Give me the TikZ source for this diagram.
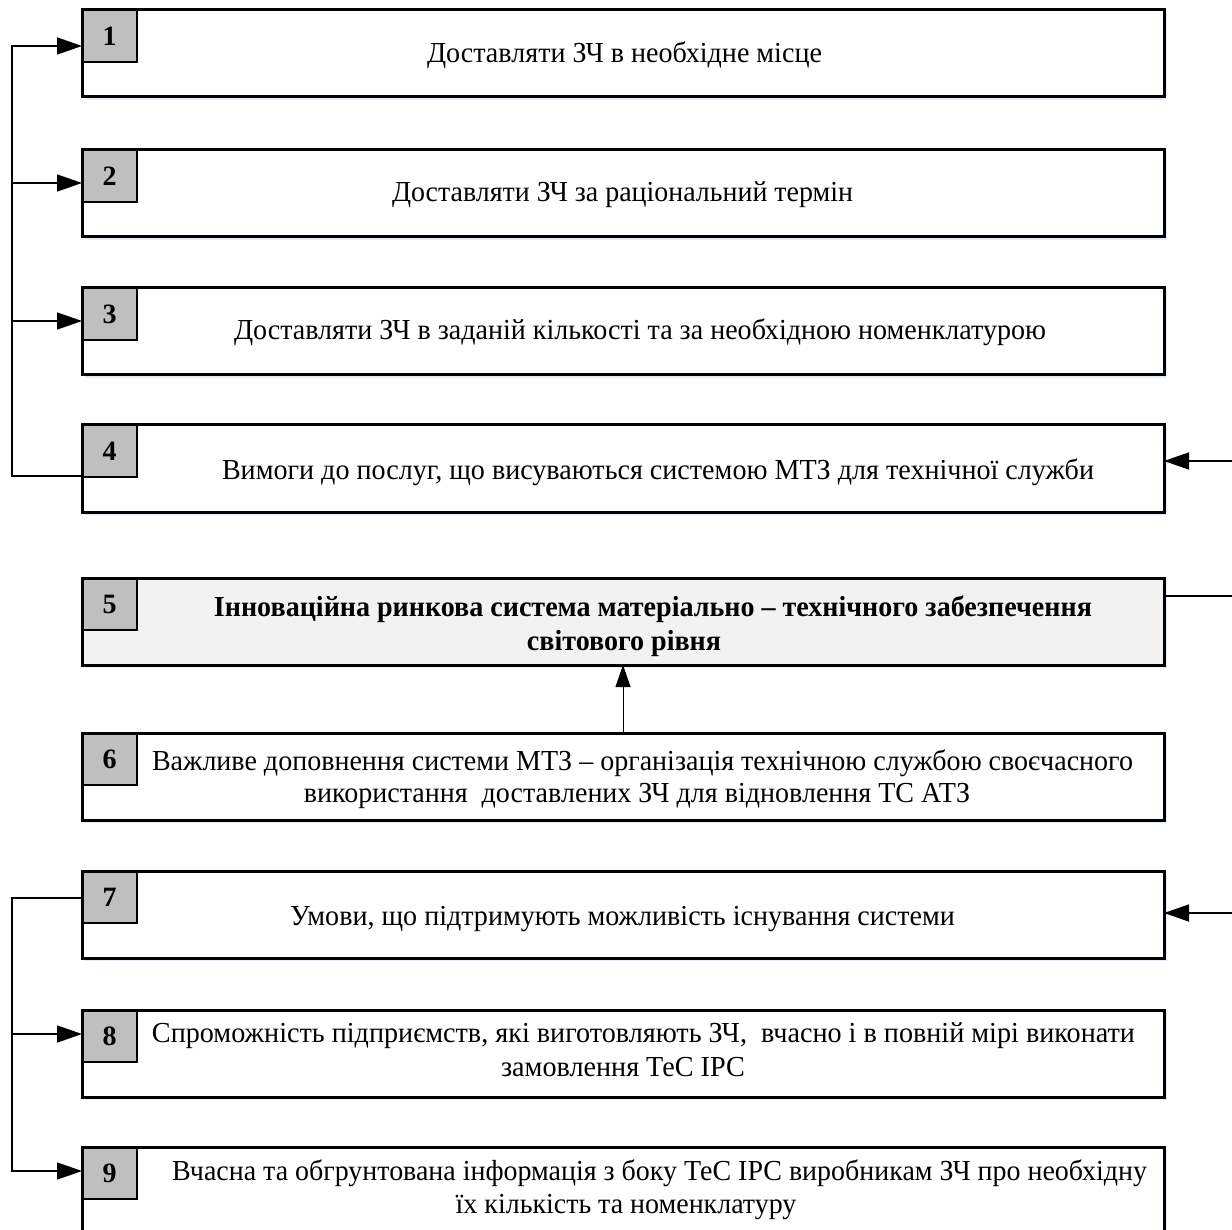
\documentclass[tikz,border=0pt]{standalone}
\usepackage{fontspec}
\setmainfont{Liberation Serif}
\usepackage{graphicx}
\usetikzlibrary{arrows.meta,shadows}
\definecolor{numgray}{HTML}{BFBFBF}
\definecolor{hlgray}{HTML}{F2F2F2}
\definecolor{glow}{HTML}{DCE6F2}
\newlength\natw
\newcommand\txtfont{\fontsize{29}{33}\selectfont}
\newcommand\fitone[2]{\settowidth\natw{#2}\pgfmathsetmacro\fitfac{#1/\natw}\global\let\gfac\fitfac\scalebox{\gfac}[1]{#2}}
\newcommand\fl[1]{\scalebox{\gfac}[1]{#1}}
\begin{document}
\begin{tikzpicture}[x=1pt,y=-1pt,
  outer/.style={draw=black, line width=3pt, fill=white, minimum width=1082pt, minimum height=87pt,
    anchor=north west, inner sep=0pt, outer sep=0pt,
    drop shadow={shadow xshift=3pt, shadow yshift=-3pt, fill=glow, opacity=0.8}},
  outerline/.style={draw=black, line width=3pt},
  numbox/.style={draw=black, line width=1.5pt, fill=numgray, minimum width=55pt, minimum height=52pt,
    anchor=north west, inner sep=0pt, outer sep=0pt, font=\fontsize{28}{30}\selectfont\bfseries},
  txt/.style={anchor=base, inner sep=0pt, font=\txtfont},
  btxt/.style={anchor=base, inner sep=0pt, font=\txtfont\bfseries},
  ln/.style={line width=1.5pt},
  arr/.style={line width=1.5pt, -{Triangle[length=25pt,width=17pt]}},
  thinarr/.style={line width=0.8pt, -{Triangle[length=22pt,width=15pt]}}]
\clip (0,0) rectangle (1232,1230);
\fill[white] (0,0) rectangle (1232,1230);

% boxes
\node[outer] (b1) at (82,10) {};
\node[numbox] (n1) at (b1.north west) {1};
\draw[outerline] (b1.north west) rectangle (b1.south east);

\node[outer] (b2) at (82,150) {};
\node[numbox] (n2) at (b2.north west) {2};
\draw[outerline] (b2.north west) rectangle (b2.south east);

\node[outer] (b3) at (82,288) {};
\node[numbox] (n3) at (b3.north west) {3};
\draw[outerline] (b3.north west) rectangle (b3.south east);

\node[outer] (b4) at (82,425) {};
\node[numbox] (n4) at (b4.north west) {4};
\draw[outerline] (b4.north west) rectangle (b4.south east);

\node[outer, fill=hlgray] (b5) at (82,578) {};
\node[numbox] (n5) at (b5.north west) {5};
\draw[outerline] (b5.north west) rectangle (b5.south east);

\node[outer] (b6) at (82,733) {};
\node[numbox] (n6) at (b6.north west) {6};
\draw[outerline] (b6.north west) rectangle (b6.south east);

\node[outer] (b7) at (82,871) {};
\node[numbox] (n7) at (b7.north west) {7};
\draw[outerline] (b7.north west) rectangle (b7.south east);

\node[outer] (b8) at (82,1010) {};
\node[numbox] (n8) at (b8.north west) {8};
\draw[outerline] (b8.north west) rectangle (b8.south east);

\node[outer, minimum height=120pt] (b9) at (82,1147) {};
\node[numbox] (n9) at (b9.north west) {9};
\draw[outerline] (b9.north west) rectangle (b9.south east);

% texts
\node[txt] (t1) at (624.5,63) {\fitone{395}{Доставляти ЗЧ в необхідне місце}};
\node[txt] (t2) at (622.5,202) {\fitone{461}{Доставляти ЗЧ за раціональний термін}};
\node[txt] (t3) at (640,340) {\fitone{812}{Доставляти ЗЧ в заданій кількості та за необхідною номенклатурою}};
\node[txt] (t4) at (658,479) {\fitone{872}{Вимоги до послуг, що висуваються системою МТЗ для технічної служби}};

\node[btxt] (t5a) at (653,616) {\fitone{878}{Інноваційна ринкова система матеріально – технічного забезпечення}};
\node[btxt] (t5b) at (624,650) {\fl{світового рівня}};

\node[txt] (t6a) at (642.5,770) {\fitone{981}{Важливе доповнення системи МТЗ – організація технічною службою своєчасного}};
\node[txt] (t6b) at (637,802) {\fl{використання~~доставлених ЗЧ для відновлення ТС АТЗ}};

\node[txt] (t7) at (622.5,925) {\fitone{665}{Умови, що підтримують можливість існування системи}};

\node[txt] (t8a) at (643.5,1042) {\fitone{983}{Спроможність підприємств, які виготовляють ЗЧ,~~вчасно і в повній мірі виконати}};
\node[txt] (t8b) at (623,1076) {\fl{замовлення ТеС ІРС}};

\node[txt] (t9a) at (659.5,1180) {\fitone{975}{Вчасна та обгрунтована інформація з боку ТеС ІРС виробникам ЗЧ про необхідну}};
\node[txt] (t9b) at (626,1213) {\fl{їх кількість та номенклатуру}};

% left upper connectors
\coordinate (a1) at (12,46);
\coordinate (a2) at (12,183);
\coordinate (a3) at (12,321);
\coordinate (a4) at (12,476);
\draw[arr] (a4 -| b4.west) -- (a4) -- (a1) -- (a1 -| b1.west);
\draw[arr] (a2) -- (a2 -| b2.west);
\draw[arr] (a3) -- (a3 -| b3.west);

% right connectors
\coordinate (r4) at (1232,461);
\coordinate (r5) at (1232,596);
\coordinate (r7) at (1232,913);
\draw[arr] (r4) -- (r4 -| b4.east);
\draw[ln] (b5.east |- r5) -- (r5);
\draw[arr] (r7) -- (r7 -| b7.east);

% 6 -> 5
\draw[thinarr] (b6.north) -- (b5.south);

% left lower connectors
\coordinate (c7) at (12,898);
\coordinate (c8) at (12,1034);
\coordinate (c9) at (12,1171);
\draw[arr] (c7 -| b7.west) -- (c7) -- (c9) -- (c9 -| b9.west);
\draw[arr] (c8) -- (c8 -| b8.west);
\end{tikzpicture}
\end{document}
